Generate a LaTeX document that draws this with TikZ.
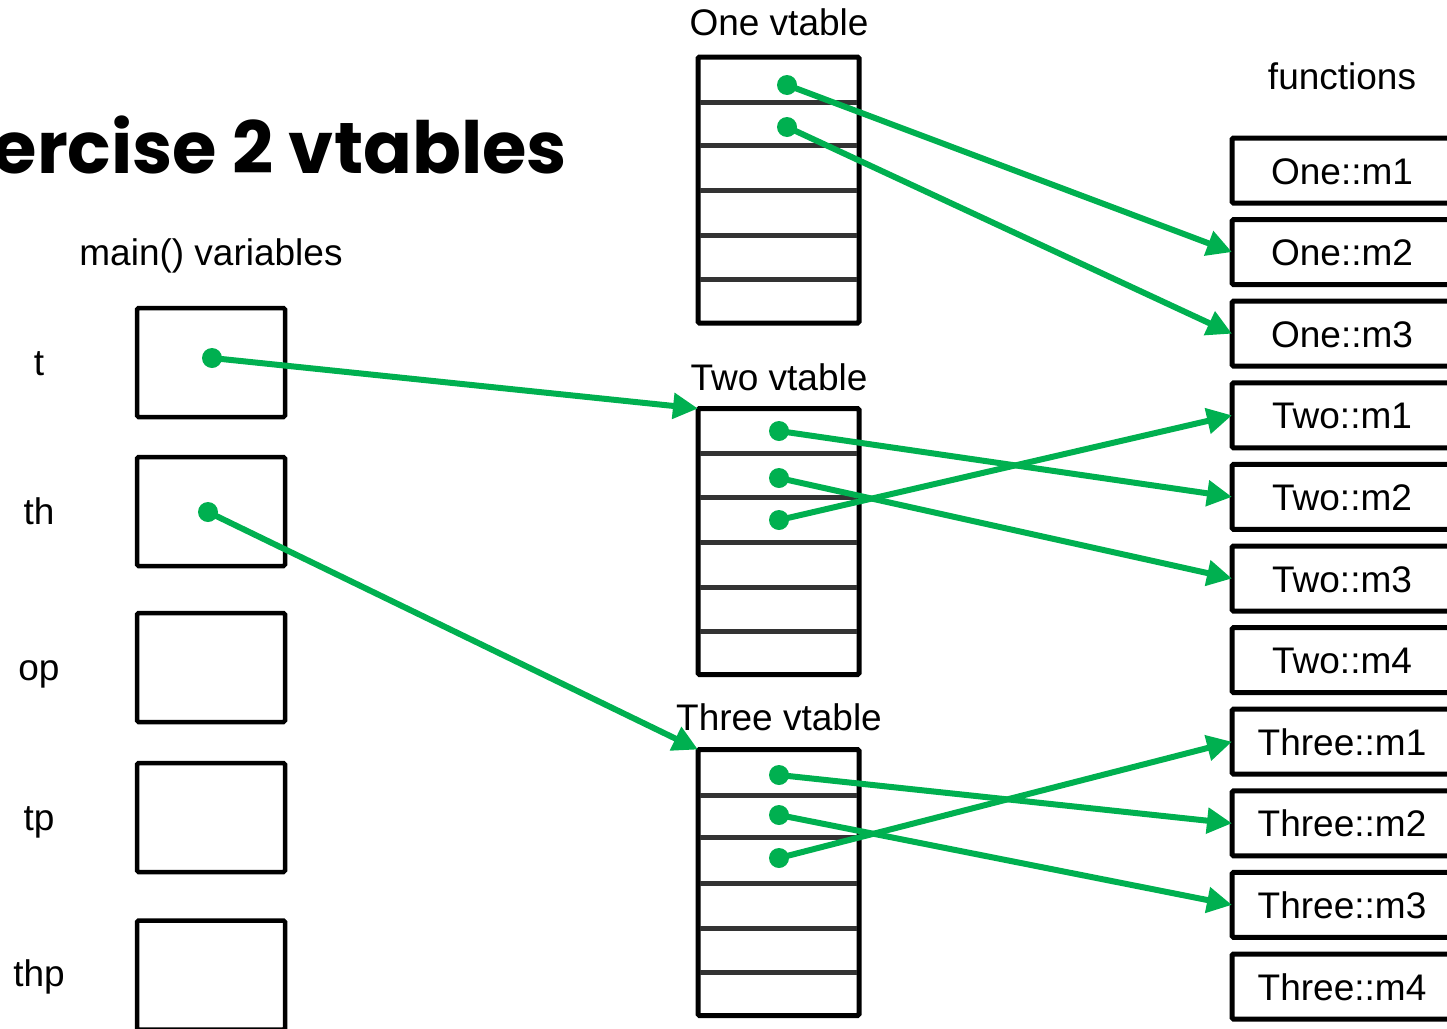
\documentclass[tikz,border=0pt]{standalone}
\usepackage{fontspec}
\setmainfont{Liberation Sans}
\newfontfamily\titlefont{Poppins}
\usetikzlibrary{arrows.meta}
\definecolor{ptrgreen}{RGB}{0,176,80}
\definecolor{sepgray}{RGB}{51,51,51}

\begin{document}
\begin{tikzpicture}[x=1pt,y=-1pt,
  lbl/.style={font=\fontsize{37}{44}\selectfont, inner sep=0pt, anchor=base},
  varbox/.style={draw, line width=4.5pt, rounded corners=1.5pt, outer sep=0pt,
    minimum width=148pt, minimum height=109pt, inner sep=0pt},
  vtab/.style={draw, line width=5pt, rounded corners=1.5pt, outer sep=0pt,
    minimum width=161pt, minimum height=266pt, inner sep=0pt},
  sep/.style={draw=sepgray, line width=5pt},
  fnbox/.style={draw, line width=5pt, rounded corners=1.5pt, outer sep=0pt,
    minimum width=220pt, minimum height=65pt, inner sep=0pt,
    font=\fontsize{37}{44}\selectfont, text height=27pt, text depth=0pt},
  dot/.style={fill=ptrgreen},
  ptr/.style={draw=ptrgreen, line width=6pt, -{Triangle[length=25pt,width=25pt]}},
]
\useasboundingbox (0,0) rectangle (1447,1028);
\clip (0,0) rectangle (1447,1028);

% title, running off the left edge
\node[anchor=base east, inner sep=0pt, font=\titlefont\bfseries\fontsize{72}{80}\selectfont]
  (title) at (567,173) {Exercise 2 vtables};

% main() variables
\node[lbl] (varhead) at (211,265) {main() variables};
\node[varbox] (vt)   at (211,362.5) {};
\node[varbox] (vth)  at (211,511.5) {};
\node[varbox] (vop)  at (211,667.5) {};
\node[varbox] (vtp)  at (211,817.5) {};
\node[varbox] (vthp) at (211,975)   {};
\node[lbl] (lt)   at (39,375.5) {t};
\node[lbl] (lth)  at (39,524.5) {th};
\node[lbl] (lop)  at (39,680.5) {op};
\node[lbl] (ltp)  at (39,830.5) {tp};
\node[lbl] (lthp) at (39,986.5) {thp};

% vtables
\node[lbl] (onelbl)   at (779,35)  {One vtable};
\node[lbl] (twolbl)   at (779,390) {Two vtable};
\node[lbl] (threelbl) at (779,730) {Three vtable};
\node[vtab] (onevt)   at (778.5,190)   {};
\node[vtab] (twovt)   at (778.5,541.5) {};
\node[vtab] (threevt) at (778.5,882.5) {};
\foreach \y in {102,145,190,235,279,
                453,497,542,587,631,
                795,837,883,928,972}
  \draw[sep] (700,\y) -- (857,\y);

% functions
\node[lbl] (fnhead) at (1342,89) {functions};
\foreach \name/\txt [count=\i from 0] in
  {o1/One::m1, o2/One::m2, o3/One::m3,
   w1/Two::m1, w2/Two::m2, w3/Two::m3, w4/Two::m4,
   h1/Three::m1, h2/Three::m2, h3/Three::m3, h4/Three::m4}
  \node[fnbox] (\name) at (1342,{170.5+81.6*\i}) {\txt};

% pointer slots
\coordinate (pt)  at (212,358);
\coordinate (pth) at (208,512);
\coordinate (s11) at (787,85);
\coordinate (s12) at (787,127);
\coordinate (s21) at (779,431);
\coordinate (s22) at (779,478);
\coordinate (s23) at (779,520);
\coordinate (s31) at (779,775);
\coordinate (s32) at (779,815);
\coordinate (s33) at (779,858);

% pointers
\draw[ptr] (pt)  -- (twovt.north west);
\draw[ptr] (pth) -- (threevt.north west);
\draw[ptr] (s11) -- (o2.west);
\draw[ptr] (s12) -- (o3.west);
\draw[ptr] (s21) -- (w2.west);
\draw[ptr] (s22) -- (w3.west);
\draw[ptr] (s23) -- (w1.west);
\draw[ptr] (s31) -- (h2.west);
\draw[ptr] (s32) -- (h3.west);
\draw[ptr] (s33) -- (h1.west);
\foreach \c in {pt,pth,s11,s12,s21,s22,s23,s31,s32,s33}
  \fill[dot] (\c) circle (10pt);
\end{tikzpicture}
\end{document}
